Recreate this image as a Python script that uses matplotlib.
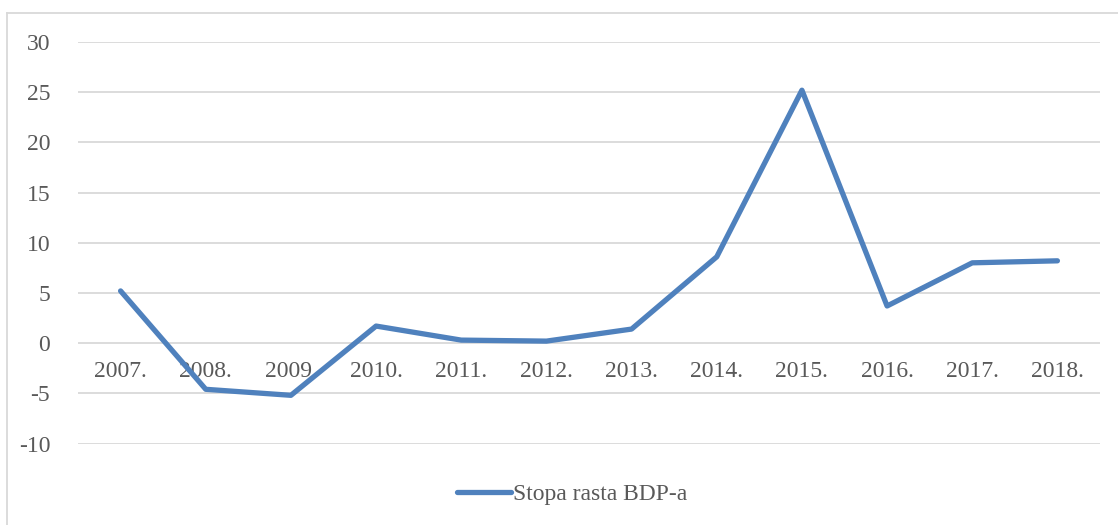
import matplotlib
matplotlib.use("Agg")
import matplotlib.pyplot as plt
from matplotlib.lines import Line2D

years = ["2007.", "2008.", "2009.", "2010.", "2011.", "2012.",
         "2013.", "2014.", "2015.", "2016.", "2017.", "2018."]
gdp_growth = [5.2, -4.6, -5.2, 1.7, 0.3, 0.2, 1.4, 8.6, 25.2, 3.7, 8.0, 8.2]
yticks = [-10, -5, 0, 5, 10, 15, 20, 25, 30]
series_name = "Stopa rasta BDP-a"

W, H = 1118, 525
plt.rcParams['font.family'] = ['Liberation Serif', 'DejaVu Serif']
text_color = '#595959'
grid_color = '#D9D9D9'
line_color = '#4F81BD'

fig = plt.figure(figsize=(W / 100, H / 100), dpi=100)
ax = fig.add_axes([78 / W, 1 - 443.5 / H, (1100 - 78) / W, (443.5 - 42) / H])

x = list(range(len(years)))
ax.plot(x, gdp_growth, color=line_color, lw=3.8, solid_joinstyle='round',
        solid_capstyle='round', label=series_name, zorder=3)

ax.set_xlim(-0.5, len(years) - 0.5)
ax.set_ylim(-10, 30)
ax.set_yticks(yticks)
ax.set_yticklabels([str(v) for v in yticks])
ax.set_xticks(x)
ax.set_xticklabels(years)

for v in yticks:
    ax.axhline(v, color=grid_color, lw=1.3, zorder=1)

for s in ax.spines.values():
    s.set_visible(False)
ax.spines['bottom'].set_position(('data', 0))

ax.tick_params(axis='y', length=0, pad=20, labelsize=17, labelcolor=text_color)
ax.tick_params(axis='x', length=0, pad=13, labelsize=17, labelcolor=text_color)

leg = fig.legend(handles=[Line2D([0], [0], color=line_color, lw=3.8, solid_capstyle='round')],
                 labels=[series_name], loc='center',
                 bbox_to_anchor=(572 / W, 1 - 494 / H), frameon=False,
                 fontsize=17, handlelength=2.3, handletextpad=0.1, labelcolor=text_color)

# outer chart border (left and top visible)
fig.add_artist(Line2D([7 / W, 7 / W], [0, 1 - 13 / H], color=grid_color, lw=1.3,
                      transform=fig.transFigure))
fig.add_artist(Line2D([7 / W, 1], [1 - 13 / H, 1 - 13 / H], color=grid_color, lw=1.3,
                      transform=fig.transFigure))

fig.savefig("out.png", dpi=100)
